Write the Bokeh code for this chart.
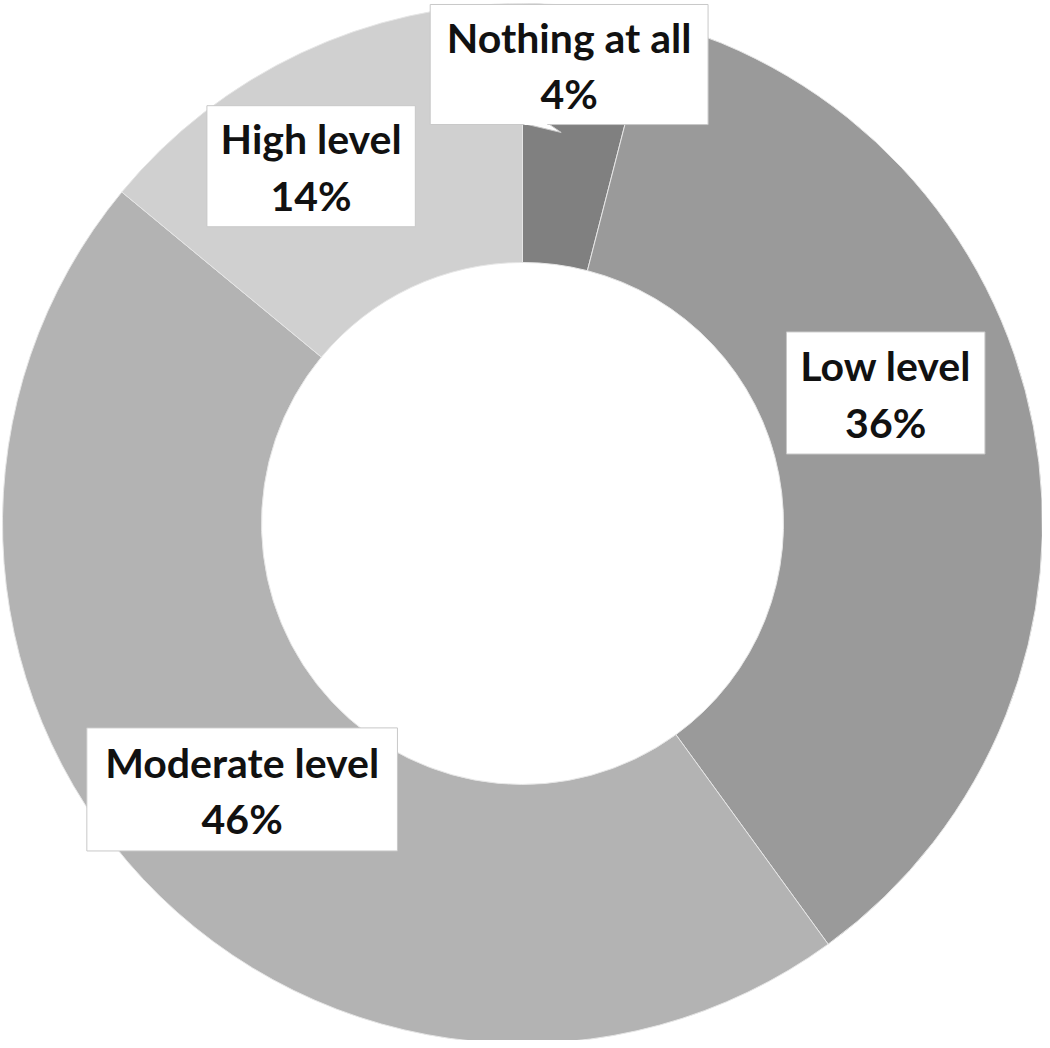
import math
from bokeh.plotting import figure
from bokeh.models import Range1d, ColumnDataSource
from bokeh.core.properties import value
from bokeh.embed import file_html
from bokeh.resources import INLINE

# ---- data ----
categories = ["Nothing at all", "Low level", "Moderate level", "High level"]
percents = [4, 36, 46, 14]
colors = ["#808080", "#9a9a9a", "#b3b3b3", "#d0d0d0"]

# ---- layout (reference pixel coordinates, y measured downwards) ----
W, H = 1042, 1040
REF_W, REF_H = 1050, 1048
CX, CY = 526, 527
R_OUT, R_IN = 524, 263
# label boxes: left, right, top, bottom (ref px)
boxes = {
    "Nothing at all": (433, 713, 4, 125),
    "Low level": (792, 992, 334, 457),
    "Moderate level": (87, 400, 733, 857),
    "High level": (208, 418, 106, 228),
}
LINE_GAP = 57
FONT = "Lato"
FONT_SIZE = "41px"


def fy(y):
    return REF_H - y


p = figure(width=W, height=H, output_backend="svg", toolbar_location=None,
           x_range=Range1d(0, REF_W), y_range=Range1d(0, REF_H),
           min_border=0, outline_line_color=None)
p.axis.visible = False
p.grid.visible = False
p.background_fill_color = "white"
p.border_fill_color = "white"

total = sum(percents)
starts, ends = [], []
cum = 0.0
for v in percents:
    starts.append(math.pi / 2 - 2 * math.pi * cum / total)
    cum += v
    ends.append(math.pi / 2 - 2 * math.pi * cum / total)

src = ColumnDataSource(dict(start=starts, end=ends, color=colors,
                            x=[CX] * len(percents), y=[fy(CY)] * len(percents)))
p.annular_wedge(x="x", y="y", inner_radius=R_IN, outer_radius=R_OUT,
                start_angle="start", end_angle="end", direction="clock",
                fill_color="color", line_color="#e6e6e6", line_width=1, source=src)

# callout pointer of the top label
p.patch([527, 565, 552], [fy(124), fy(133), fy(124)], fill_color="white",
        line_color="#c8c8c8", line_width=1)

lefts, rights, tops, bottoms, tx, ty1, ty2, names, pcts = [], [], [], [], [], [], [], [], []
for c, v in zip(categories, percents):
    l, r, t, b = boxes[c]
    lefts.append(l); rights.append(r); tops.append(fy(t)); bottoms.append(fy(b))
    mx = (l + r) / 2
    my = (t + b) / 2
    tx.append(mx)
    ty1.append(fy(my - LINE_GAP / 2 + 1))
    ty2.append(fy(my + LINE_GAP / 2 + 1))
    names.append(c)
    pcts.append(f"{v}%")

p.quad(left=lefts, right=rights, top=tops, bottom=bottoms,
       fill_color="white", line_color="#c8c8c8", line_width=1)
# hide pointer's top edge inside box
p.segment(x0=[528], y0=[fy(124.5)], x1=[551], y1=[fy(124.5)], line_color="white", line_width=2)

p.text(x=tx, y=ty1, text=names, text_font=value(FONT), text_font_style="bold",
       text_font_size=FONT_SIZE, text_align="center", text_baseline="middle",
       text_color="#111111")
p.text(x=tx, y=ty2, text=pcts, text_font=value(FONT), text_font_style="bold",
       text_font_size=FONT_SIZE, text_align="center", text_baseline="middle",
       text_color="#111111")

open("out.html", "w").write(file_html(p, INLINE))
